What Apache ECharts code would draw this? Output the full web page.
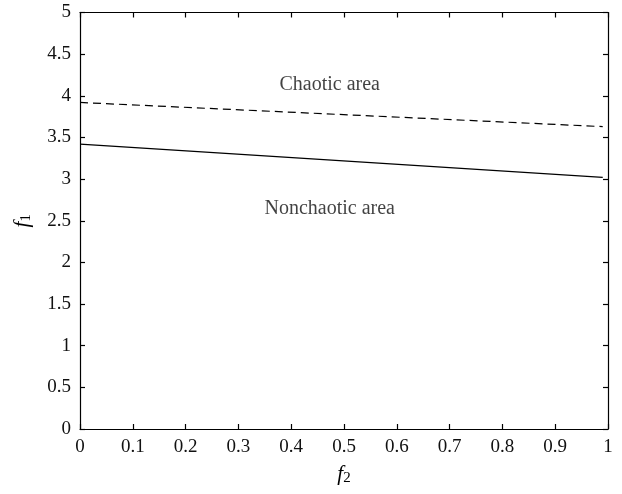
<!DOCTYPE html>
<html><head><meta charset="utf-8">
<script src="https://cdn.jsdelivr.net/npm/echarts@6/dist/echarts.min.js"></script>
<style>html,body{margin:0;padding:0;background:#fff}#c{width:622px;height:494px}</style>
</head><body><div id="c"></div>
<script>
const f2Values = [0, 0.99];
const chaoticBoundary = [3.92, 3.63];
const nonchaoticBoundary = [3.42, 3.02];
const xTicks = [0, 0.1, 0.2, 0.3, 0.4, 0.5, 0.6, 0.7, 0.8, 0.9, 1];
const yTicks = [0, 0.5, 1, 1.5, 2, 2.5, 3, 3.5, 4, 4.5, 5];
const annotations = [
  {text: 'Chaotic area', x: 0.473, y: 4.13},
  {text: 'Nonchaotic area', x: 0.473, y: 2.64}
];
const font = 'Liberation Serif';
const chart = echarts.init(document.getElementById('c'));
const axisCommon = {
  axisLine: {show: true, onZero: false, lineStyle: {color: '#000', width: 1.2}},
  axisTick: {show: true, inside: true, length: 5, lineStyle: {color: '#000', width: 1.2}},
  splitLine: {show: false}
};
chart.setOption({
  animation: false,
  backgroundColor: '#fff',
  grid: {left: 80, right: 14, top: 12.5, bottom: 65, containLabel: false, outerBoundsMode: 'none'},
  xAxis: [
    Object.assign({type: 'value', min: 0, max: 1, interval: 0.1, position: 'bottom',
      name: '{i|f}{s|2}', nameLocation: 'middle', nameGap: 34,
      nameTextStyle: {rich: {i: {fontFamily: font, fontStyle: 'italic', fontSize: 21, color: '#000'}, s: {fontFamily: font, fontSize: 15, color: '#000', verticalAlign: 'bottom', padding: [8, 0, 0, 0]}}},
      axisLabel: {fontFamily: font, fontSize: 19, color: '#111', margin: 9,
        formatter: v => { const t = xTicks.find(x => Math.abs(x - v) < 1e-9); return t === undefined ? '' : String(t); }}
    }, axisCommon),
    Object.assign({type: 'value', min: 0, max: 1, interval: 0.1, position: 'top', axisLabel: {show: false}}, axisCommon)
  ],
  yAxis: [
    Object.assign({type: 'value', min: 0, max: 5, interval: 0.5, position: 'left',
      name: '{i|f}{s|1}', nameLocation: 'middle', nameGap: 46, nameRotate: 90,
      nameTextStyle: {rich: {i: {fontFamily: font, fontStyle: 'italic', fontSize: 21, color: '#000'}, s: {fontFamily: font, fontSize: 15, color: '#000', padding: [8, 0, 0, 0]}}},
      axisLabel: {fontFamily: font, fontSize: 19, color: '#111', margin: 9,
        formatter: v => { const t = yTicks.find(y => Math.abs(y - v) < 1e-9); return t === undefined ? '' : String(t); }}
    }, axisCommon),
    Object.assign({type: 'value', min: 0, max: 5, interval: 0.5, position: 'right', axisLabel: {show: false}}, axisCommon)
  ],
  series: [
    {type: 'line', data: f2Values.map((x, i) => [x, chaoticBoundary[i]]), symbol: 'none',
     lineStyle: {color: '#000', width: 1.2, type: [8, 5]}},
    {type: 'line', data: f2Values.map((x, i) => [x, nonchaoticBoundary[i]]), symbol: 'none',
     lineStyle: {color: '#000', width: 1.2}},
    {type: 'scatter', symbolSize: 0, data: annotations.map(a => ({value: [a.x, a.y], name: a.text})),
     label: {show: true, position: 'inside', formatter: p => p.name, fontFamily: font, fontSize: 20, color: '#111'}}
  ]
});
</script></body></html>
